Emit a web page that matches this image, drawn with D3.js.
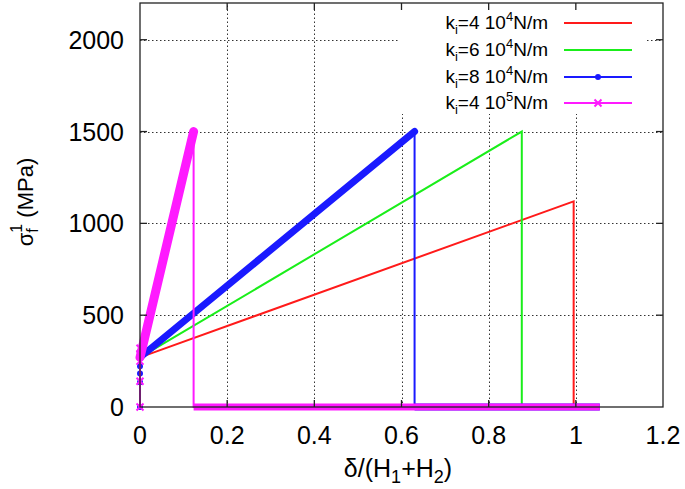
<!DOCTYPE html>
<html>
<head>
<meta charset="utf-8">
<script src="https://cdn.jsdelivr.net/npm/d3@7"></script>
<style>
  body { margin: 0; background: #fff; }
  svg { display: block; font-family: "Liberation Sans", Arial, sans-serif; }
</style>
</head>
<body>
<svg id="chart" width="685" height="489"></svg>
<script>
// ---- data ----
const xTicks = [0, 0.2, 0.4, 0.6, 0.8, 1, 1.2];
const xTickLabels = ["0", "0.2", "0.4", "0.6", "0.8", "1", "1.2"];
const yTicks = [0, 500, 1000, 1500, 2000];
const yTickLabels = ["0", "500", "1000", "1500", "2000"];

const seriesKi = ["4", "6", "8", "4"];
const seriesExp = ["4", "4", "4", "5"];

// delta/(H1+H2) and sigma_f^1 (MPa) key points of each series
const redX = [0, 0, 0.995, 0.995, 1.055];
const redY = [0, 270, 1120, 0, 0];
const greenX = [0, 0, 0.876, 0.876, 1.055];
const greenY = [0, 270, 1500, 0, 0];
const blueX = [0, 0, 0.63, 0.63, 1.055];
const blueY = [0, 270, 1500, 0, 0];
const magentaX = [0, 0, 0.123, 0.123, 1.055];
const magentaY = [0, 270, 1500, 0, 0];

// scattered start-up points at delta = 0
const blueStartX = [0, 0, 0, 0];
const blueStartY = [0, 135, 182, 222];
const magentaStartX = [0, 0, 0, 0, 0];
const magentaStartY = [0, 140, 250, 285, 320];

// ---- layout ----
const svg = d3.select("#chart");
const W = 685, H = 489;
const L = 140, R = 663, T = 3, B = 407;

const x = d3.scaleLinear().domain([0, 1.2]).range([L, R]);
const y = d3.scaleLinear().domain([0, 2200]).range([B, T]);

const legendBox = { x0: 398, x1: 647, y0: 8, y1: 114 };

// grid
const grid = svg.append("g").attr("stroke", "#333").attr("stroke-width", 1)
  .attr("stroke-dasharray", "1.5,2.5");
xTicks.filter(v => v > 0 && v < 1.2).forEach(v => {
  const px = Math.round(x(v)) + 0.5;
  const inLegend = px > legendBox.x0 && px < legendBox.x1;
  if (inLegend) {
    grid.append("line").attr("x1", px).attr("x2", px).attr("y1", B).attr("y2", legendBox.y1);
  } else {
    grid.append("line").attr("x1", px).attr("x2", px).attr("y1", B).attr("y2", T);
  }
});
yTicks.filter(v => v > 0).forEach(v => {
  const py = Math.round(y(v)) + 0.5;
  const inLegend = py > legendBox.y0 && py < legendBox.y1;
  if (inLegend) {
    grid.append("line").attr("x1", L).attr("x2", legendBox.x0).attr("y1", py).attr("y2", py);
    grid.append("line").attr("x1", legendBox.x1).attr("x2", R).attr("y1", py).attr("y2", py);
  } else {
    grid.append("line").attr("x1", L).attr("x2", R).attr("y1", py).attr("y2", py);
  }
});

// series
const series = [
  { xs: redX, ys: redY, color: "#ff1a1a", band: 0 },
  { xs: greenX, ys: greenY, color: "#1aee1a", band: 0 },
  { xs: blueX, ys: blueY, color: "#1a1aff", band: 7, marker: "dot", sx: blueStartX, sy: blueStartY },
  { xs: magentaX, ys: magentaY, color: "#ff1aff", band: 9, marker: "cross", sx: magentaStartX, sy: magentaStartY }
];

const line = d3.line().x(d => x(d[0])).y(d => y(d[1]));
const plot = svg.append("g");

function drawMarker(g, kind, cx, cy, color) {
  if (kind === "dot") {
    g.append("circle").attr("cx", cx).attr("cy", cy).attr("r", 3).attr("fill", color);
  } else {
    const s = 3.5;
    g.append("path")
      .attr("d", `M${cx - s},${cy - s}L${cx + s},${cy + s}M${cx - s},${cy + s}L${cx + s},${cy - s}`)
      .attr("stroke", color).attr("stroke-width", 2).attr("fill", "none");
  }
}

series.forEach(s => {
  const pts = s.xs.map((v, i) => [v, s.ys[i]]);
  plot.append("path").attr("d", line(pts))
    .attr("fill", "none").attr("stroke", s.color).attr("stroke-width", 2)
    .attr("stroke-linejoin", "miter");
  if (s.band) {
    // dense markers along the non-vertical segments form a thick band
    for (let i = 0; i < pts.length - 1; i++) {
      const a = pts[i], b = pts[i + 1];
      if (b[0] - a[0] <= 0) continue;
      const flat = a[1] === b[1];
      plot.append("path").attr("d", line([a, b]))
        .attr("fill", "none").attr("stroke", s.color)
        .attr("stroke-width", flat ? 7 : s.band)
        .attr("stroke-linecap", flat ? "butt" : "round");
    }
    s.sx.forEach((v, i) => drawMarker(plot, s.marker, x(v), y(s.sy[i]), s.color));
  }
});

// border and ticks
const border = svg.append("g").attr("stroke", "#222").attr("stroke-width", 1.3).attr("fill", "none");
border.append("rect").attr("x", L).attr("y", T).attr("width", R - L).attr("height", B - T);
const tl = 7;
xTicks.filter(v => v > 0 && v < 1.2).forEach(v => {
  const px = x(v);
  border.append("line").attr("x1", px).attr("x2", px).attr("y1", B).attr("y2", B - tl);
  border.append("line").attr("x1", px).attr("x2", px).attr("y1", T).attr("y2", T + tl);
});
yTicks.filter(v => v > 0).forEach(v => {
  const py = y(v);
  border.append("line").attr("x1", L).attr("x2", L + tl).attr("y1", py).attr("y2", py);
  border.append("line").attr("x1", R).attr("x2", R - tl).attr("y1", py).attr("y2", py);
});

// tick labels
const labels = svg.append("g").attr("fill", "#000").attr("font-size", 25);
xTicks.forEach((v, i) => {
  labels.append("text").attr("x", x(v)).attr("y", 444).attr("text-anchor", "middle").text(xTickLabels[i]);
});
yTicks.forEach((v, i) => {
  labels.append("text").attr("x", 124).attr("y", y(v) + 9).attr("text-anchor", "end").text(yTickLabels[i]);
});

// axis titles
const xt = svg.append("text").attr("x", 398).attr("y", 477).attr("text-anchor", "middle")
  .attr("font-size", 25).attr("fill", "#000");
xt.append("tspan").text("δ/(H");
xt.append("tspan").attr("font-size", 18).attr("dy", 6).text("1");
xt.append("tspan").attr("dy", -6).text("+H");
xt.append("tspan").attr("font-size", 18).attr("dy", 6).text("2");
xt.append("tspan").attr("dy", -6).text(")");

const yt = svg.append("text").attr("transform", "translate(33,202) rotate(-90)")
  .attr("text-anchor", "middle").attr("font-size", 22).attr("fill", "#000");
yt.append("tspan").text("σ");
yt.append("tspan").attr("font-size", 16).attr("dy", 5).text("f");
yt.append("tspan").attr("font-size", 16).attr("dx", -4.5).attr("dy", -16).text("1");
yt.append("tspan").attr("dy", 11).text(" (MPa)");

// legend
const lg = svg.append("g");
const rowY = [23, 50, 77, 103];
series.forEach((s, i) => {
  const t = lg.append("text").attr("x", 548).attr("y", rowY[i] + 6).attr("text-anchor", "end")
    .attr("font-size", 19).attr("fill", "#000");
  t.append("tspan").text("k");
  t.append("tspan").attr("font-size", 13).attr("dy", 5).text("i");
  t.append("tspan").attr("dy", -5).text("=" + seriesKi[i] + " 10");
  t.append("tspan").attr("font-size", 13).attr("dy", -8).text(seriesExp[i]);
  t.append("tspan").attr("dy", 8).text("N/m");
  lg.append("line").attr("x1", 564).attr("x2", 632).attr("y1", rowY[i]).attr("y2", rowY[i])
    .attr("stroke", s.color).attr("stroke-width", 2);
  if (s.marker) drawMarker(lg, s.marker, 598, rowY[i], s.color);
});
</script>
</body>
</html>
